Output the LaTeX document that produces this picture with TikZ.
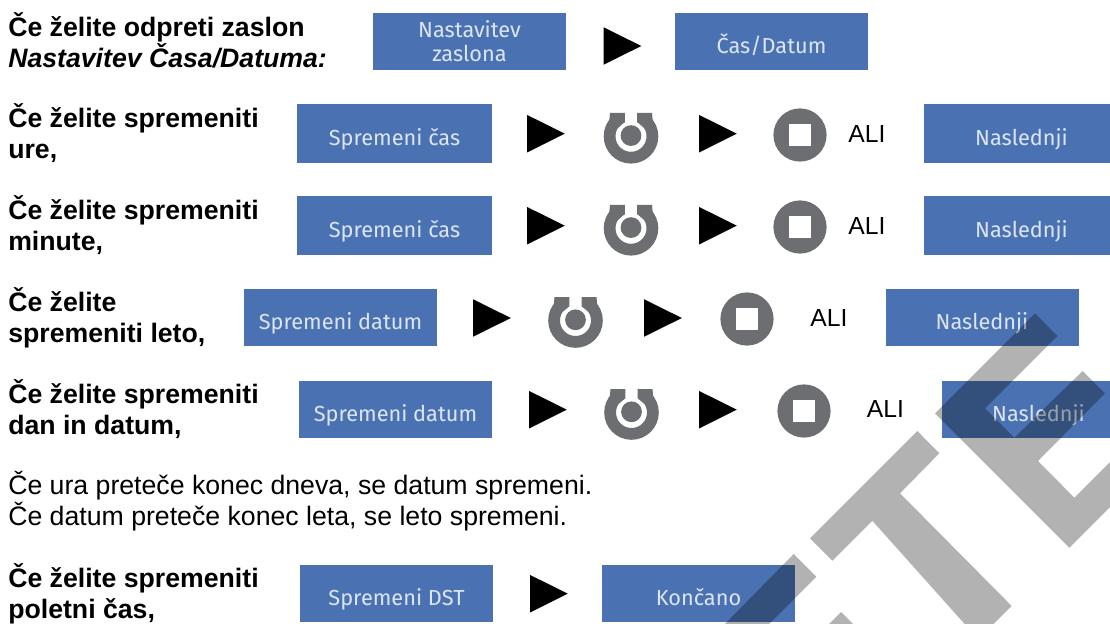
\documentclass[tikz,border=0pt]{standalone}
\usepackage{fontspec}
\setmainfont{Liberation Sans}
\newfontfamily\BtnFont{Fira Sans}
\usetikzlibrary{positioning}
\definecolor{BtnBlue}{HTML}{4A72B2}
\definecolor{BtnText}{HTML}{DCE5F2}
\definecolor{DialGray}{HTML}{6D6E71}
\newcommand{\BtnLow}[1]{\raisebox{-9pt}[0pt][0pt]{#1}}
\tikzset{
  PlayTip/.pic = {\fill[black] (-18.8,-18.7) -- (18.8,0) -- (-18.8,18.7) -- cycle;},
  StopDial/.pic = {\fill[DialGray] (0,0) circle (26.6);
                   \fill[white] (-11.2,-11) rectangle (11.2,11);},
  TurnDial/.pic = {\fill[DialGray, even odd rule] (0,0) circle (27.3) (0,0) circle (15.5);
                   \fill[white] (-6.2,-28) rectangle (6.2,-10);
                   \fill[white] (-28,-28) rectangle (28,-23.5);
                   \fill[DialGray] (6.2,-14.2) -- (6.2,-23.5) -- (21,-23.5) -- (21.6,-16.8) -- (13,-8.5) -- cycle;
                   \fill[DialGray] (-6.2,-14.2) -- (-6.2,-23.5) -- (-21,-23.5) -- (-21.6,-16.8) -- (-13,-8.5) -- cycle;
                   \fill[DialGray] (0,-0.7) circle (10.4);}
}
\begin{document}
\begin{tikzpicture}[x=0.75pt, y=-0.75pt]
  \tikzstyle{every node} = [inner sep = 0]
  \tikzstyle{ButtonStyle} = [fill = BtnBlue, text = BtnText, minimum width = 144.75pt,
                             minimum height = 43pt, align = center,
                             font = \BtnFont\fontsize{16.3}{18}\selectfont]
  \tikzstyle{WideButton} = [ButtonStyle, minimum width = 146.25pt, minimum height = 44.25pt]
  \tikzstyle{LabelStyle} = [anchor = base west, align = left,
                            font = \bfseries\fontsize{20}{23.25}\selectfont]
  \tikzstyle{NoteStyle} = [anchor = base west, align = left,
                           font = \fontsize{20}{23.6}\selectfont]
  \tikzstyle{OrStyle} = [font = \fontsize{18.5}{22}\selectfont]
  \tikzstyle{WaterMark} = [fill = black, opacity = 0.3]
\useasboundingbox (0,0) rectangle (1110,624);
\clip (0,0) rectangle (1110,624);

\node[LabelStyle] (L1) at (8,67.5) {Če želite odpreti zaslon\\\textit{Nastavitev Časa/Datuma:}};
\node[LabelStyle] (L2) at (8,159) {Če želite spremeniti\\ure,};
\node[LabelStyle] (L3) at (8,250.5) {Če želite spremeniti\\minute,};
\node[LabelStyle] (L4) at (8,342) {Če želite\\spremeniti leto,};
\node[LabelStyle] (L5) at (8,434.5) {Če želite spremeniti\\dan in datum,};
\node[NoteStyle] (N1) at (8,525.5) {Če ura preteče konec dneva, se datum spremeni.\\Če datum preteče konec leta, se leto spremeni.};
\node[LabelStyle] (L6) at (8,618) {Če želite spremeniti\\poletni čas,};

\node[ButtonStyle] (B1) at (469.5,41.5) {Nastavitev\\zaslona};
\pic at (622.5,46) {PlayTip};
\node[ButtonStyle] (B2) at (771.5,41.5) {\BtnLow{Čas/Datum}};

\node[WideButton] (B3) at (394.5,133.5) {\BtnLow{Spremeni čas}};
\pic at (546,133.7) {PlayTip};
\pic at (631,136.3) {TurnDial};
\pic at (718,133.7) {PlayTip};
\pic at (800,135) {StopDial};
\node[OrStyle] (O1) at (867,134) {ALI};
\node[WideButton] (B4) at (1021.5,133.5) {\BtnLow{Naslednji}};

\node[WideButton] (B5) at (394.5,225.5) {\BtnLow{Spremeni čas}};
\pic at (546,225.7) {PlayTip};
\pic at (631,228.3) {TurnDial};
\pic at (718,225.7) {PlayTip};
\pic at (800,227) {StopDial};
\node[OrStyle] (O2) at (867,226) {ALI};
\node[WideButton] (B6) at (1021.5,225.5) {\BtnLow{Naslednji}};

\node[ButtonStyle] (B7) at (340.5,317.5) {\BtnLow{Spremeni datum}};
\pic at (492,318) {PlayTip};
\pic at (575.5,320.5) {TurnDial};
\pic at (663,318) {PlayTip};
\pic at (747,319) {StopDial};
\node[OrStyle] (O3) at (829,318) {ALI};
\node[ButtonStyle] (B8) at (982,317.5) {\BtnLow{Naslednji}};

\node[ButtonStyle] (B9) at (395.5,409.5) {\BtnLow{Spremeni datum}};
\pic at (548,409.7) {PlayTip};
\pic at (631.5,412.5) {TurnDial};
\pic at (718,409.7) {PlayTip};
\pic at (804,411) {StopDial};
\node[OrStyle] (O4) at (885.5,409) {ALI};
\node[ButtonStyle] (B10) at (1038.5,409.5) {\BtnLow{Naslednji}};

\node[ButtonStyle] (B11) at (396.5,593.5) {\BtnLow{Spremeni DST}};
\pic at (549,593.7) {PlayTip};
\node[ButtonStyle] (B12) at (698.5,593.5) {\BtnLow{Končano}};

\fill[WaterMark] (935,413.3) -- (1035,313.3) -- (1057.3,336) -- (985,408.3) -- (1014.3,437.7)
  -- (1082.7,371) -- (1105,393.3) -- (1038,461) -- (1074.3,497.7) -- (1140,432) -- (1170,447)
  -- (1069.3,547.7) -- cycle;
\fill[WaterMark] (810,538.3) -- (917.3,431) -- (939.3,453.3) -- (900,493.3) -- (1011.7,606)
  -- (978.3,639.3) -- (872.3,520.7) -- (832.3,560.7) -- cycle;
\fill[WaterMark] (793.7,554) -- (816.3,576.7) -- (760,633) -- (716,633) -- cycle;
\fill[WaterMark] (841,612) -- (862,633) -- (820,633) -- cycle;
\end{tikzpicture}
\end{document}
